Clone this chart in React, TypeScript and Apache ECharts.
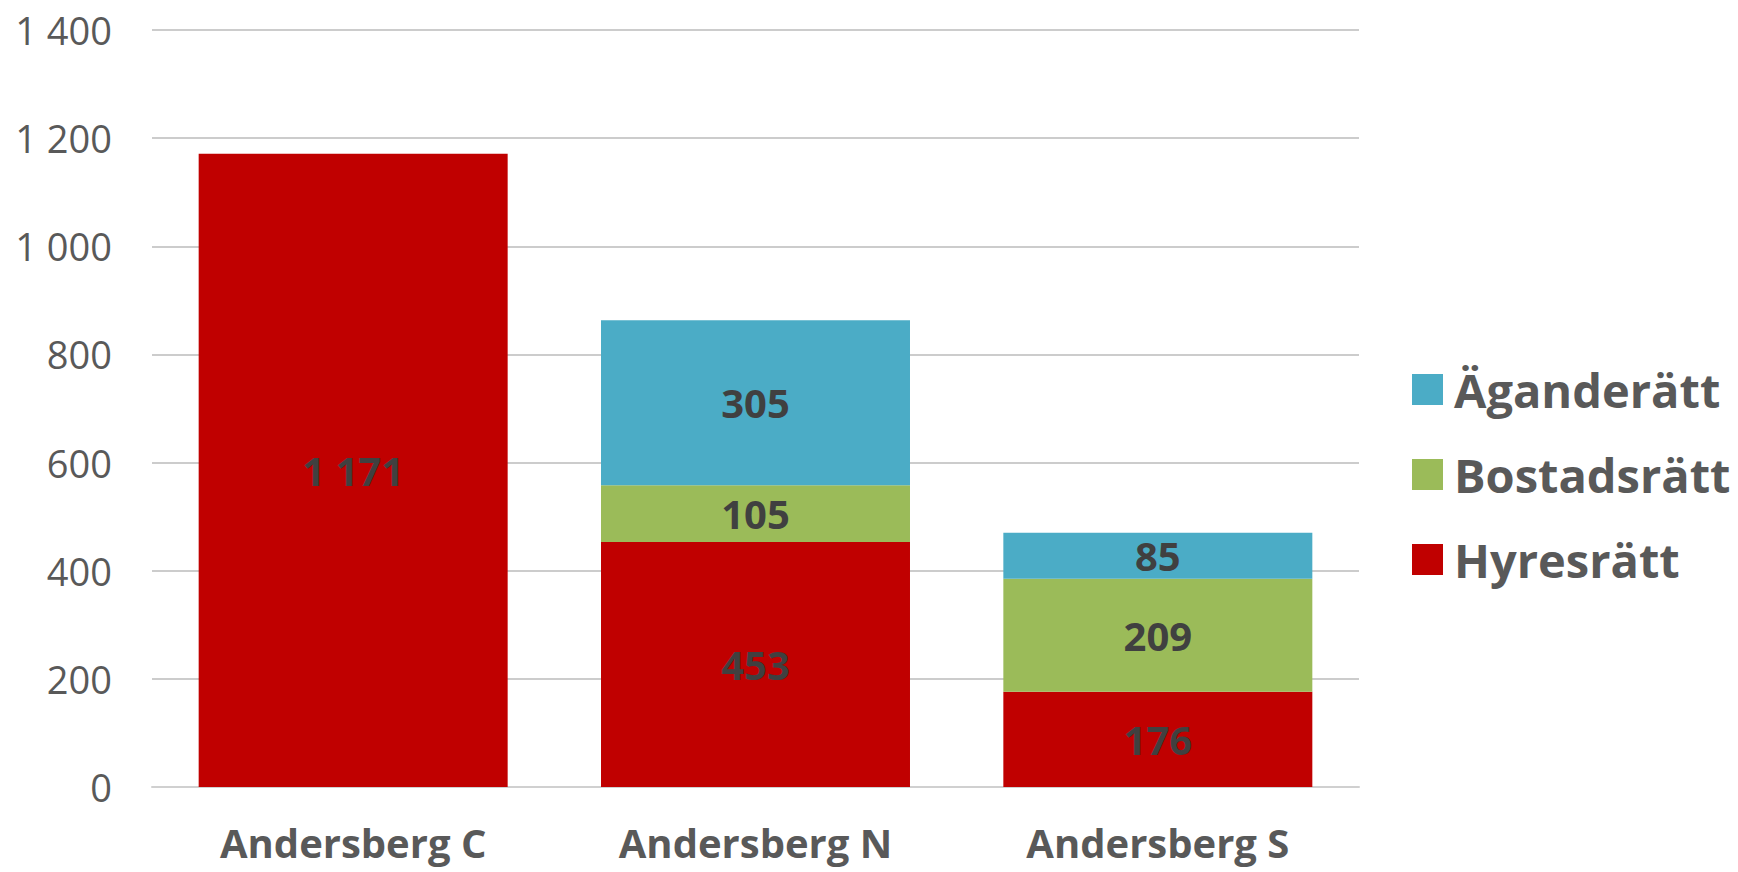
import React, { useEffect, useRef } from "react";
import * as echarts from "echarts";

const categories = ["Andersberg C", "Andersberg N", "Andersberg S"];
const hyresratt = [1171, 453, 176];
const bostadsratt = [0, 105, 209];
const aganderatt = [0, 305, 85];
const legendOrder = ["Äganderätt", "Bostadsrätt", "Hyresrätt"];

const fmt = (v: number) => String(v).replace(/\B(?=(\d{3})+(?!\d))/g, " ");

export default function App() {
  const ref = useRef<HTMLDivElement>(null);
  useEffect(() => {
    if (!ref.current) return;
    const chart = echarts.init(ref.current, undefined, { renderer: "svg" });
    const font = "'Open Sans', sans-serif";
    const label = {
      show: true,
      position: "inside",
      color: "#404040",
      fontFamily: font,
      fontWeight: "bold",
      fontSize: 40,
      formatter: (p: any) => (p.value ? fmt(p.value) : ""),
    };
    const mk = (name: string, data: number[], color: string) => ({
      name,
      type: "bar",
      stack: "total",
      data,
      barWidth: "76.8%",
      itemStyle: { color },
      label,
    });
    chart.setOption({
      animation: false,
      backgroundColor: "#ffffff",
      grid: { left: 152, top: 30, width: 1207, height: 757, containLabel: false },
      legend: {
        orient: "vertical",
        left: 1407,
        top: 361,
        data: legendOrder,
        icon: "rect",
        itemWidth: 31,
        itemHeight: 31,
        itemGap: 38,
        textStyle: {
          fontFamily: font,
          fontWeight: "bold",
          fontSize: 47,
          lineHeight: 45,
          color: "#595959",
          padding: [0, 0, 0, 6],
        },
      },
      xAxis: {
        type: "category",
        data: categories,
        axisLine: { lineStyle: { color: "#d0d0d0", width: 2 } },
        axisTick: { show: false },
        axisLabel: {
          margin: 35,
          lineHeight: 40,
          color: "#595959",
          fontFamily: font,
          fontWeight: "bold",
          fontSize: 40,
        },
      },
      yAxis: {
        type: "value",
        min: 0,
        max: 1400,
        interval: 200,
        axisLine: { show: false },
        axisTick: { show: false },
        splitLine: { lineStyle: { color: "#cccccc", width: 2 } },
        axisLabel: {
          margin: 40,
          color: "#595959",
          fontFamily: font,
          fontSize: 38,
          formatter: (v: number) => fmt(v),
        },
      },
      series: [
        mk("Hyresrätt", hyresratt, "#C00000"),
        mk("Bostadsrätt", bostadsratt, "#9BBB59"),
        mk("Äganderätt", aganderatt, "#4BACC6"),
      ],
    });
    return () => chart.dispose();
  }, []);
  return (
    <div
      ref={ref}
      style={{ position: "fixed", left: 0, top: 0, width: 1738, height: 872 }}
    />
  );
}
